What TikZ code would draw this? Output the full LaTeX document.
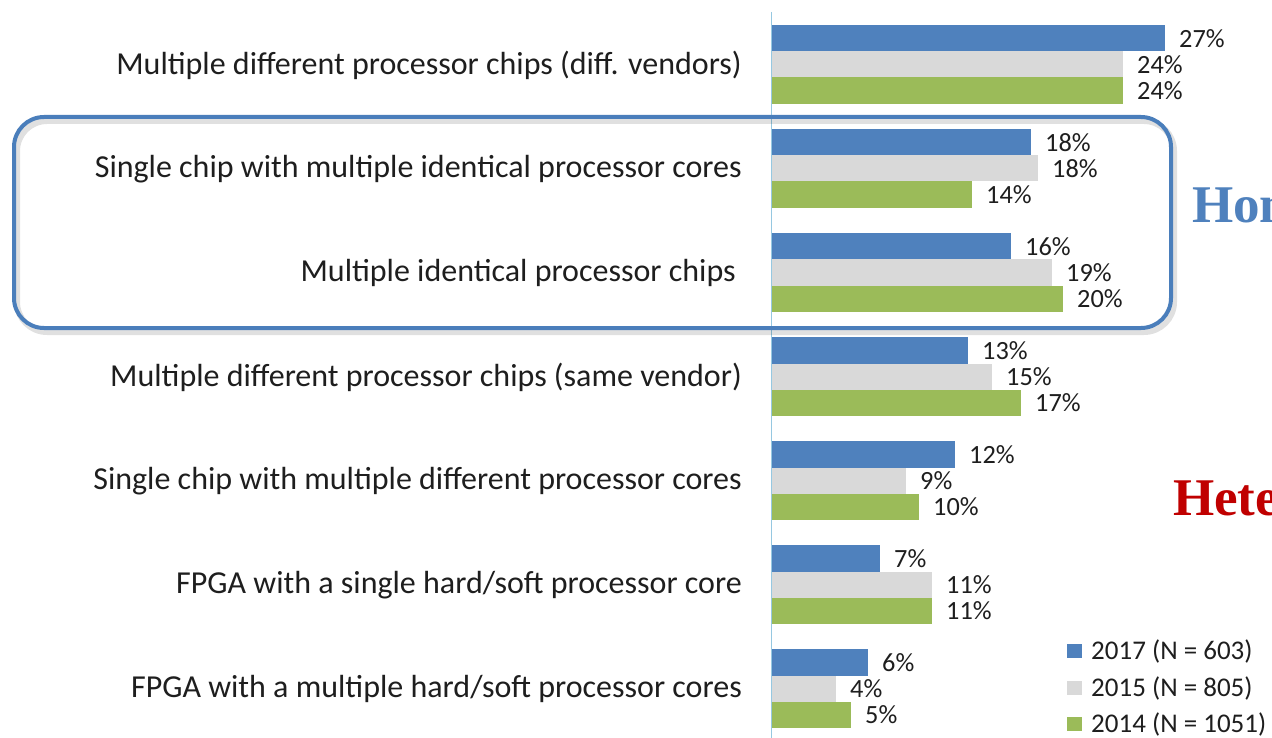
\documentclass[tikz,border=0pt]{standalone}
\usepackage{fontspec}
\setmainfont{Carlito}
\newfontfamily\serifbold{Liberation Serif}
\definecolor{bblue}{RGB}{79,129,189}
\definecolor{bgrey}{RGB}{217,217,217}
\definecolor{bgreen}{RGB}{155,187,89}
\definecolor{axisc}{RGB}{150,200,225}
\definecolor{boxc}{RGB}{74,126,187}
\definecolor{homc}{RGB}{79,129,189}
\definecolor{hetc}{RGB}{192,0,0}
\definecolor{txt}{RGB}{30,30,30}
\tikzset{
  catlabel/.style={anchor=east, inner sep=0pt, text=txt, font=\fontsize{32}{38}\selectfont},
  vallabel/.style={anchor=west, inner sep=0pt, text=txt, font=\fontsize{26.3}{31}\selectfont},
  leglabel/.style={anchor=west, inner sep=0pt, text=txt, font=\fontsize{27}{32}\selectfont},
  bigword/.style={anchor=base west, inner sep=0pt, font=\serifbold\bfseries\fontsize{53}{60}\selectfont},
  groupbox/.style={draw=boxc, line width=4pt, rounded corners=30pt},
  boxshadow/.style={draw=black, draw opacity=0.12, line width=6pt, rounded corners=30pt},
}
\begin{document}
\begin{tikzpicture}[x=1pt,y=-1pt]
\useasboundingbox (0,0) rectangle (1272,738);
\clip (0,0) rectangle (1272,738);
\fill[white] (0,0) rectangle (1272,738);
% axis
\draw[axisc, line width=1.6pt] (771.5,12) coordinate (axtop) -- (771.5,738) coordinate (axbot);
% bars
\foreach \i/\lab/\b/\g/\gr/\vb/\vg/\vgr/\dx in {
 1/{Multiple different processor chips (diff. vendors)}/1165/1123/1123/27/24/24/0,
 2/{Single chip with multiple identical processor cores}/1031/1038/972/18/18/14/0,
 3/{Multiple identical processor chips}/1011/1052/1063/16/19/20/6,
 4/{Multiple different processor chips (same vendor)}/968/992/1021/13/15/17/0,
 5/{Single chip with multiple different processor cores}/955/906/919/12/9/10/0,
 6/{FPGA with a single hard/soft processor core}/880/932/932/7/11/11/0,
 7/{FPGA with a multiple hard/soft processor cores}/868/836/851/6/4/5/0}{
  \pgfmathsetmacro{\t}{25+104*(\i-1)}
  \fill[bblue] (772,\t) rectangle (\b,\t+26.5);
  \fill[bgrey] (772,\t+26.5) rectangle (\g,\t+52.5);
  \fill[bgreen] (772,\t+52.5) rectangle (\gr,\t+79);
  \node[catlabel] (cat\i) at (742-\dx,\t+40) {\lab};
  \node[vallabel] (vb\i) at (\b+14,\t+14) {\vb\%};
  \node[vallabel] (vg\i) at (\g+14,\t+40) {\vg\%};
  \node[vallabel] (vgr\i) at (\gr+14,\t+66) {\vgr\%};
}
% group box
\draw[boxshadow] (17,121) rectangle (1174,332);
\draw[groupbox] (14,117) rectangle (1171,328);
\node[bigword, text=homc] (hom) at (1192,223) {Hom};
\node[bigword, text=hetc] (het) at (1173,515) {Hete};
% legend
\fill[bblue] (1067,644) rectangle (1082,658);
\node[leglabel] (l1) at (1091,651) {2017 (N = 603)};
\fill[bgrey] (1067,681) rectangle (1082,695);
\node[leglabel] (l2) at (1091,688) {2015 (N = 805)};
\fill[bgreen] (1067,717) rectangle (1082,731);
\node[leglabel] (l3) at (1091,724) {2014 (N = 1051)};
\end{tikzpicture}
\end{document}
